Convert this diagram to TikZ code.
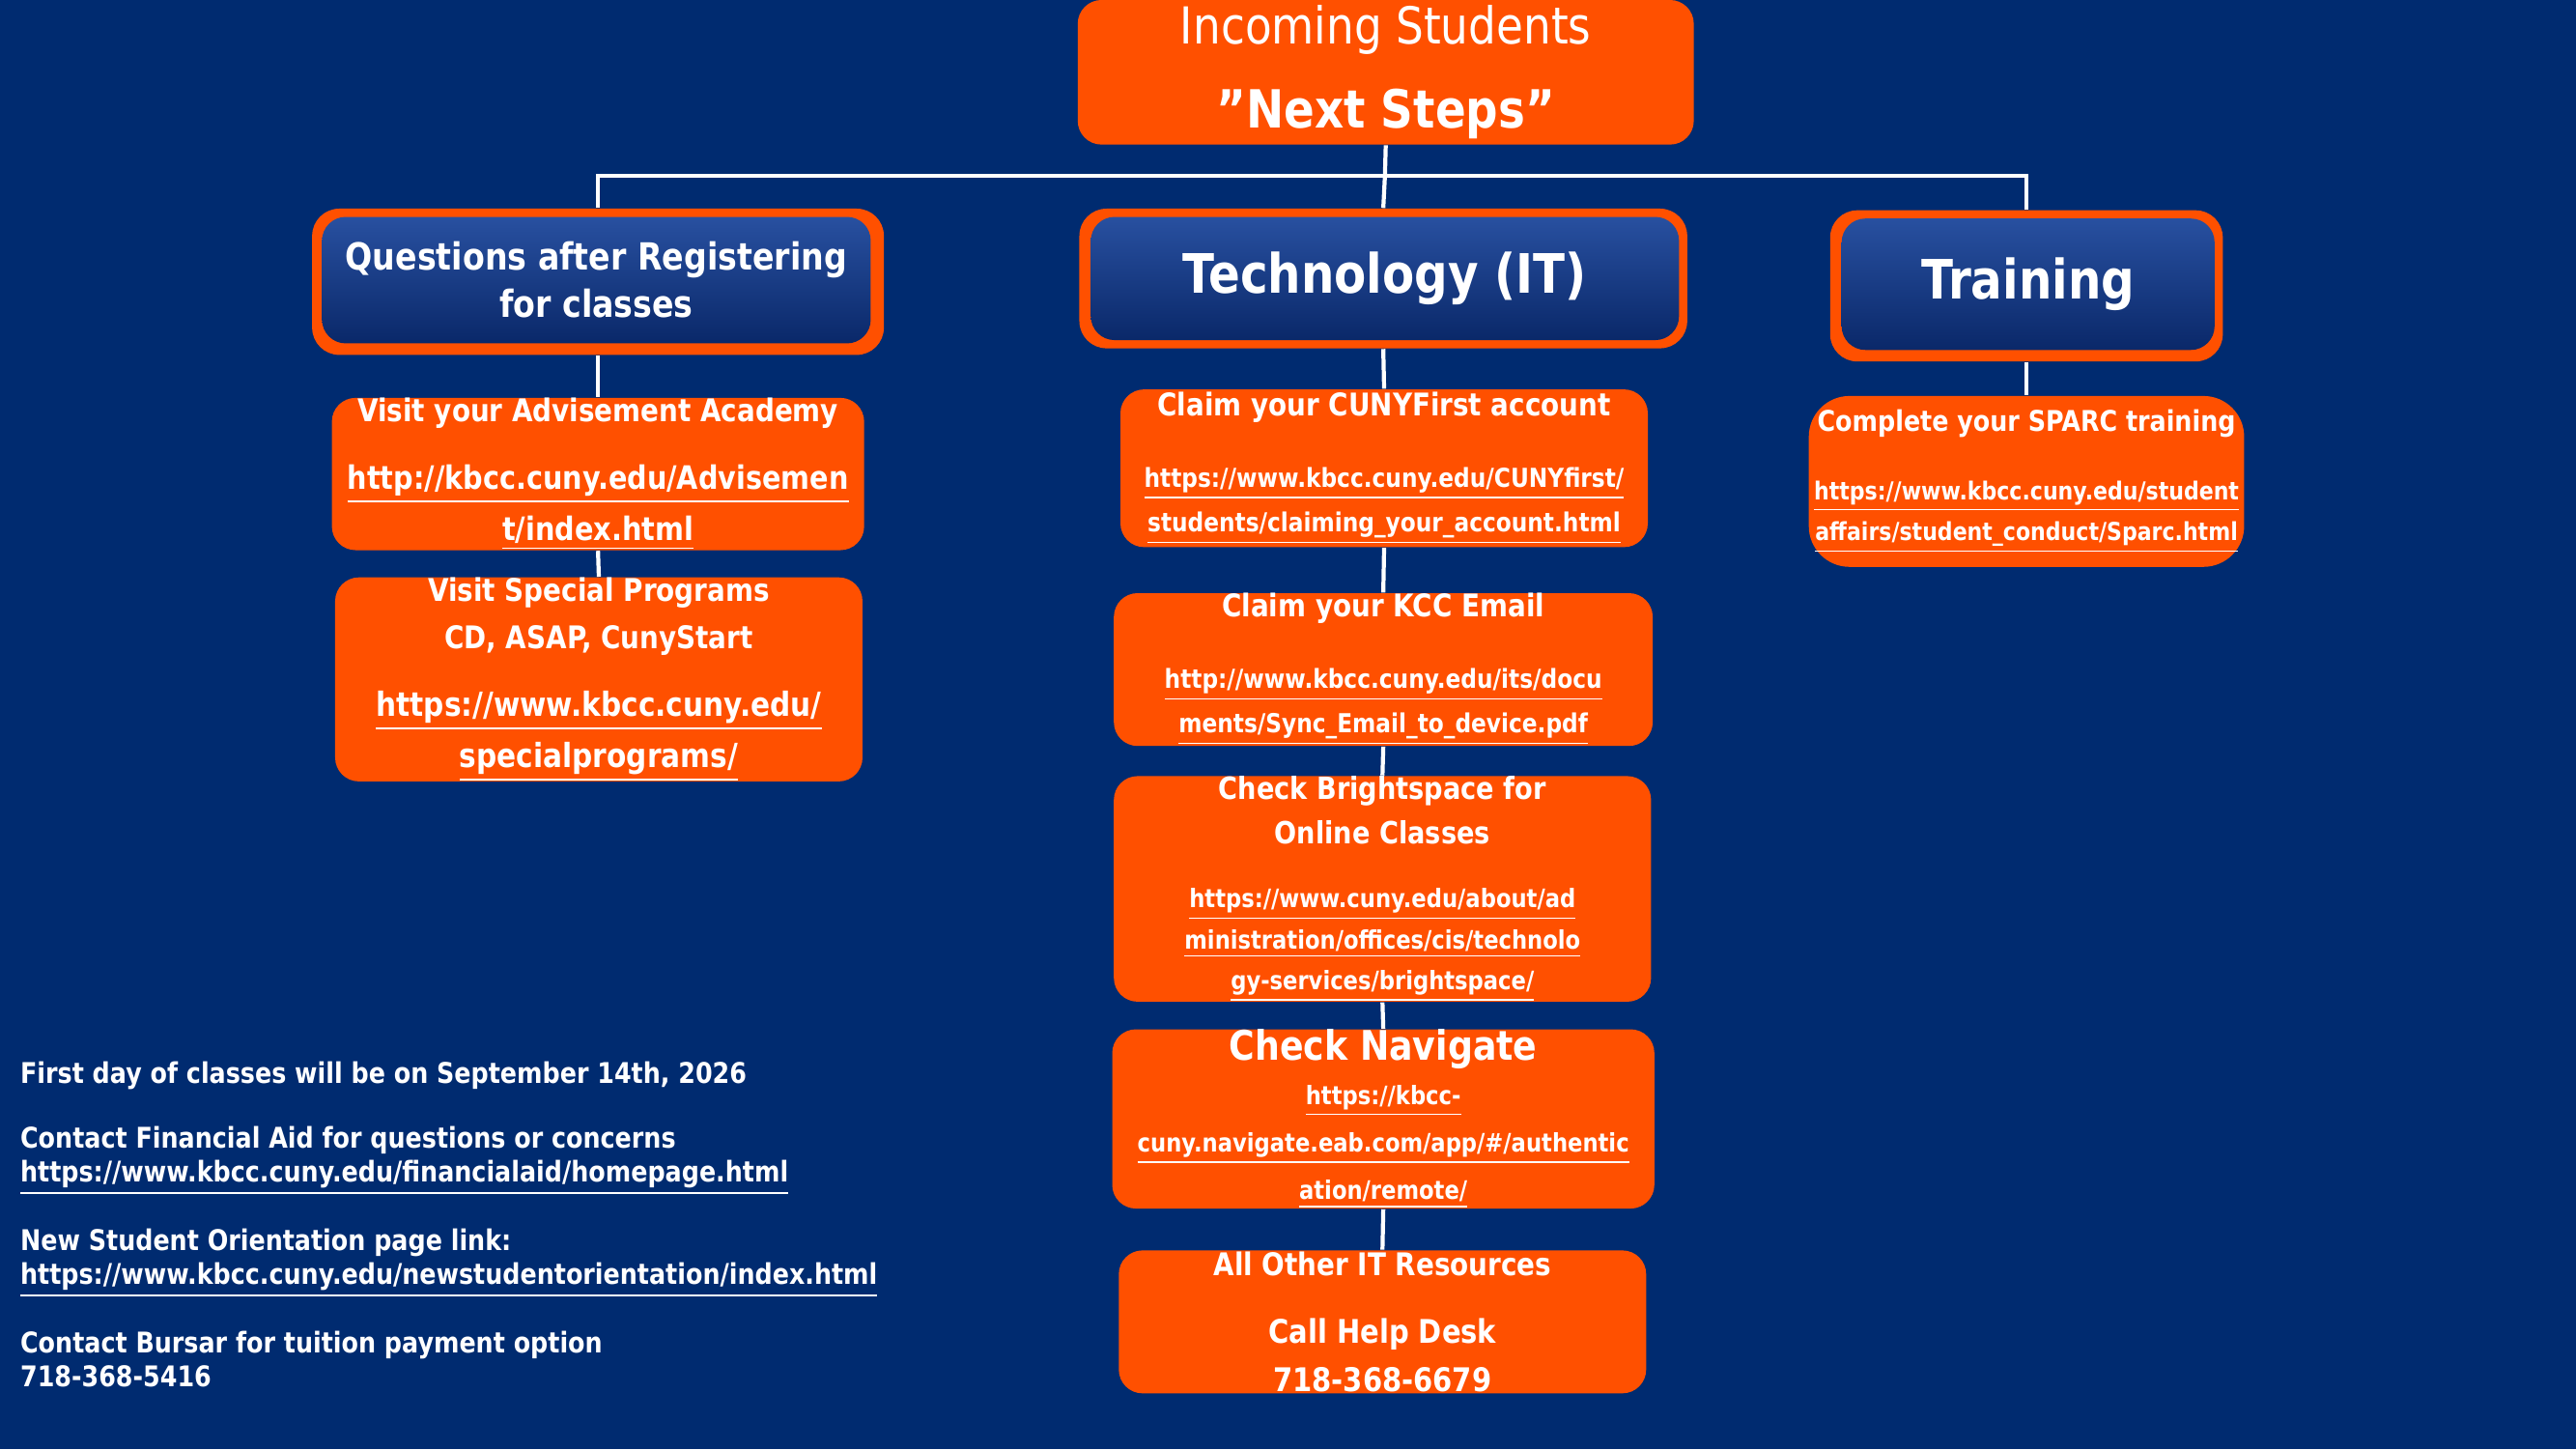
\documentclass[tikz,border=0pt]{standalone}
\usepackage{fontspec}
\setmainfont{DejaVu Sans}[FakeStretch=0.86]
\usepackage{tikz}
\usetikzlibrary{positioning, calc}
\definecolor{navy}{RGB}{0,43,112}
\definecolor{kbcorange}{RGB}{255,80,0}
\definecolor{hdtop}{RGB}{40,80,160}
\definecolor{hdbot}{RGB}{10,40,105}
% one underlined link line at a given size
\newcommand{\lnk}[2]{{\fontsize{#1}{#1}\selectfont\underline{#2}}}
\newcommand{\ttl}[2]{{\fontsize{#1}{#1}\selectfont #2}}
\begin{document}
\begin{tikzpicture}[
  x=0.01701cm, y=-0.01701cm,
  every node/.style={text=white, font=\bfseries, align=center, inner sep=0pt},
  stepbox/.style={rectangle, rounded corners=7pt, fill=kbcorange},
  headouter/.style={rectangle, rounded corners=8pt, fill=kbcorange},
  headinner/.style={rectangle, rounded corners=7pt, top color=hdtop, bottom color=hdbot},
  tree/.style={draw=white, line width=1.2pt}
]
\fill[navy] (0,0) rectangle (1568,882);
\useasboundingbox (0,0) rectangle (1568,882);

% top box
\node[stepbox, minimum width=375*0.01701cm, minimum height=88*0.01701cm] (top) at (843.5,44)
  {\ttl{15}{\mdseries Incoming Students}\\[9pt]\ttl{15.5}{\char34 Next Steps\char34}};

% headers
\node[headouter, minimum width=348*0.01701cm, minimum height=89*0.01701cm] (qa) at (364,171.5) {};
\node[headinner, minimum width=334*0.01701cm, minimum height=77*0.01701cm] (qain) at (363,170.5)
  {\ttl{11}{Questions after Registering}\\[2pt]\ttl{11}{for classes}};
\node[headouter, minimum width=370*0.01701cm, minimum height=85*0.01701cm] (it) at (842,169.5) {};
\node[headinner, minimum width=358*0.01701cm, minimum height=75*0.01701cm] (itin) at (843,169.5)
  {\ttl{16}{Technology (IT)}};
\node[headouter, minimum width=239*0.01701cm, minimum height=92*0.01701cm] (tr) at (1233.5,174) {};
\node[headinner, minimum width=227*0.01701cm, minimum height=80*0.01701cm] (trin) at (1234.5,173)
  {\ttl{16}{Training}};

% left column
\node[stepbox, minimum width=324*0.01701cm, minimum height=91*0.01701cm] (adv) at (364,288.5)
  {\ttl{9.2}{Visit your Advisement Academy}\\[8pt]
   \lnk{9.5}{http://kbcc.cuny.edu/Advisemen}\\[3pt]\lnk{9.5}{t/index.html}};
\node[stepbox, minimum width=321*0.01701cm, minimum height=107*0.01701cm] (spec) at (364.5,413.5)
  {\ttl{9.2}{Visit Special Programs}\\[2pt]\ttl{9.2}{CD, ASAP, CunyStart}\\[8pt]
   \lnk{9.8}{https://www.kbcc.cuny.edu/}\\[3pt]\lnk{9.8}{specialprograms/}};

% middle column
\node[stepbox, minimum width=321*0.01701cm, minimum height=96*0.01701cm] (cf) at (842.5,285)
  {\ttl{9.2}{Claim your CUNYFirst account}\\[9pt]
   \lnk{7.7}{https://www.kbcc.cuny.edu/CUNYfirst/}\\[1pt]\lnk{7.7}{students/claiming\_your\_account.html}};
\node[stepbox, minimum width=328*0.01701cm, minimum height=93*0.01701cm] (em) at (842,407.5)
  {\ttl{9.2}{Claim your KCC Email}\\[9pt]
   \lnk{7.7}{http://www.kbcc.cuny.edu/its/docu}\\[1pt]\lnk{7.7}{ments/Sync\_Email\_to\_device.pdf}};
\node[stepbox, minimum width=327*0.01701cm, minimum height=120*0.01701cm] (bs) at (841.5,541)
  {\ttl{9}{Check Brightspace for}\\[1pt]\ttl{9}{Online Classes}\\[7pt]
   \lnk{7.5}{https://www.cuny.edu/about/ad}\\[0pt]\lnk{7.5}{ministration/offices/cis/technolo}\\[0pt]\lnk{7.5}{gy-services/brightspace/}};
\node[stepbox, minimum width=330*0.01701cm, minimum height=100*0.01701cm] (nav) at (842,681)
  {\ttl{12}{Check Navigate}\\[1pt]
   \lnk{7.5}{https://kbcc-}\\[2pt]\lnk{7.5}{cuny.navigate.eab.com/app/\#/authentic}\\[2pt]\lnk{7.5}{ation/remote/}};
\node[stepbox, minimum width=321*0.01701cm, minimum height=87*0.01701cm] (hd) at (841.5,804.5)
  {\ttl{9.2}{All Other IT Resources}\\[8pt]
   \ttl{9.6}{Call Help Desk}\\[2pt]\ttl{9.6}{718-368-6679}};

% right column
\node[stepbox, rounded corners=12pt, minimum width=265*0.01701cm, minimum height=104*0.01701cm] (sp) at (1233.5,293)
  {\ttl{8.4}{Complete your SPARC training}\\[8pt]
   \lnk{7.3}{https://www.kbcc.cuny.edu/student}\\[0pt]\lnk{7.3}{affairs/student\_conduct/Sparc.html}};

% connectors
\coordinate (bar) at (843,107);
\draw[tree] (top.south) -- (bar);
\draw[tree] (qa.north) |- (bar) -| (tr.north);
\draw[tree] (bar) -- (it.north);
\draw[tree] (qa.south) -- (adv.north);
\draw[tree] (adv.south) -- (spec.north);
\draw[tree] (it.south) -- (cf.north);
\draw[tree] (cf.south) -- (em.north);
\draw[tree] (em.south) -- (bs.north);
\draw[tree] (bs.south) -- (nav.north);
\draw[tree] (nav.south) -- (hd.north);
\draw[tree] (tr.south) -- (sp.north);

% notes
\node[anchor=north west, align=left, font=\bfseries\fontsize{8.4}{10}\selectfont] (notes) at (12,646)
  {First day of classes will be on September 14th, 2026\\[9pt]
   Contact Financial Aid for questions or concerns\\
   \underline{https://www.kbcc.cuny.edu/financialaid/homepage.html}\\[9pt]
   New Student Orientation page link:\\
   \underline{https://www.kbcc.cuny.edu/newstudentorientation/index.html}\\[9pt]
   Contact Bursar for tuition payment option\\
   718-368-5416};
\end{tikzpicture}
\end{document}
